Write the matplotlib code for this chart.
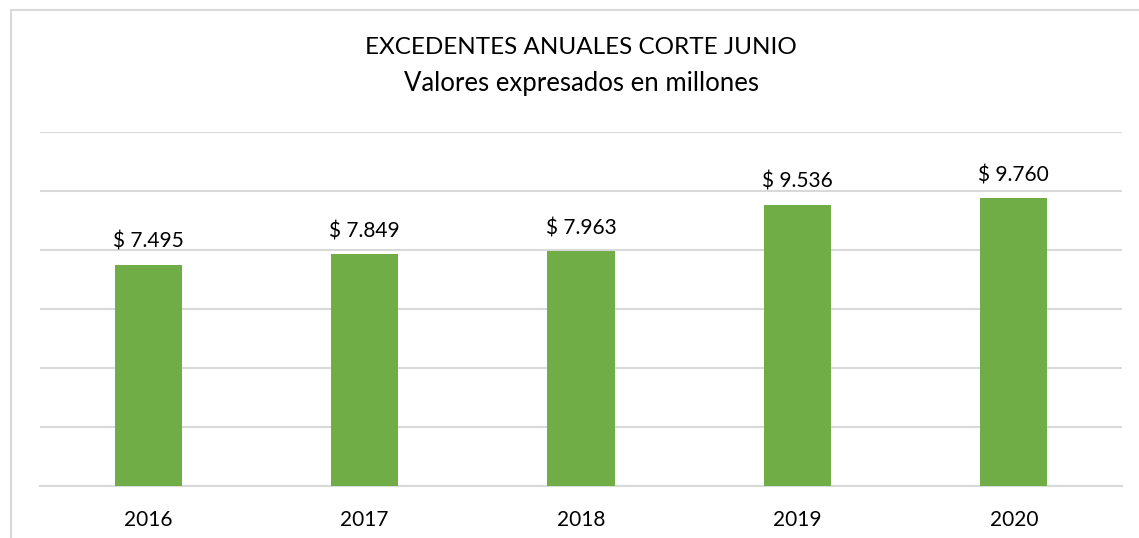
import matplotlib.pyplot as plt
from matplotlib.patches import Rectangle

years = ['2016', '2017', '2018', '2019', '2020']
excedentes = [7495, 7849, 7963, 9536, 9760]

plt.rcParams['font.family'] = ['Lato', 'DejaVu Sans']

fig = plt.figure(figsize=(11.39, 5.38), dpi=100)
ax = fig.add_axes([40 / 1139, 1 - 486 / 538, 1082 / 1139, 354 / 538])

# chart area border (only left and top visible in the crop)
fig.patches.append(Rectangle((11 / 1139, -0.1), 1.2, 1 - 10 / 538 + 0.1,
                             transform=fig.transFigure, fill=False,
                             edgecolor='#d9d9d9', linewidth=1.5))

x = range(len(years))
bars = ax.bar(x, excedentes, width=0.31, color='#70ad47', zorder=3)
for rect, v in zip(bars, excedentes):
    ax.annotate('$ ' + f'{v:,}'.replace(',', '.'),
                (rect.get_x() + rect.get_width() / 2, v),
                xytext=(0, 13), textcoords='offset pixels',
                ha='center', va='bottom', fontsize=15, color='#000000')

ax.set_xlim(-0.5, len(years) - 0.5)
ax.set_ylim(0, 12000)
ax.set_yticks(range(0, 12001, 2000))
ax.yaxis.grid(True, color='#d9d9d9', linewidth=1.5, zorder=0)
ax.set_yticklabels([])
ax.tick_params(axis='y', length=0)
ax.set_xticks(list(x))
ax.set_xticklabels(years, fontsize=15)
ax.tick_params(axis='x', length=0, pad=17)
for s in ['top', 'right', 'left']:
    ax.spines[s].set_visible(False)
ax.spines['bottom'].set_color('#d9d9d9')
ax.spines['bottom'].set_linewidth(1.5)

fig.text(581 / 1139, 1 - 47 / 538, 'EXCEDENTES ANUALES CORTE JUNIO',
         ha='center', va='center', fontsize=17.5)
fig.text(581 / 1139, 1 - 83 / 538, 'Valores expresados en millones',
         ha='center', va='center', fontsize=18.5)

fig.savefig('out.png', dpi=100)
